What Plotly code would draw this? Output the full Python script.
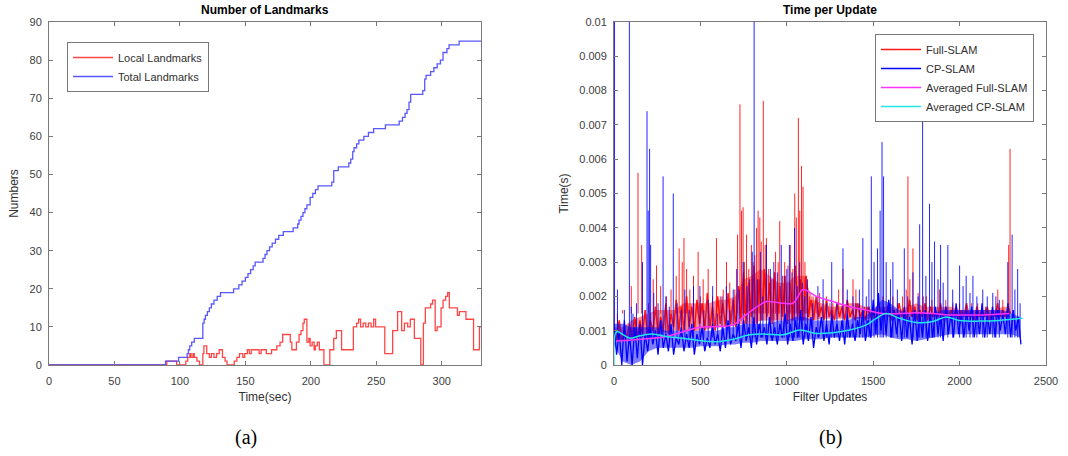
import numpy as np
import plotly.graph_objects as go

# ---------------- (a) Number of Landmarks ----------------
total_t = [0, 89, 99, 105.5, 106.5, 107.5, 109, 111, 117.5, 118.5, 119.5, 121, 122.5, 124, 126, 128.5, 131,
           141, 145, 147.5, 150, 152, 154, 156, 157.5, 163.5, 165, 166.5, 168.5, 170.5, 173, 175.5, 179,
           186.5, 190, 191, 192.5, 194, 195.5, 197, 199.5, 201.5, 203.5, 205.5, 216, 217.5, 221, 229, 230.5,
           232, 233, 235, 236.7, 240.5, 244, 248, 257, 267.5, 270, 272, 273.5, 275, 276.3, 285.5, 287,
           288, 291.5, 294, 296.5, 299, 301, 304, 305.6, 313.3, 330]
total_n = [0, 1, 2, 3, 4, 5, 6, 7, 11, 12, 13, 14, 15, 16, 17, 18, 19,
           20, 21, 22, 23, 24, 25, 26, 27, 28, 29, 30, 31, 32, 33, 34, 35,
           36, 37, 38, 39, 40, 41, 42, 44, 45, 46, 47, 48, 51, 52, 53, 54,
           56, 57, 58, 59, 60, 61, 62, 63, 64, 65, 66, 67, 69, 71, 72, 75,
           76, 77, 78, 79, 80, 82, 83, 84, 85, 85]

local_t = [0, 90, 97.5, 104.5, 106, 107.5, 108.5, 110, 111, 113,
           115, 117.5, 118.3, 120.5, 122.5, 124, 126, 128, 130, 132.5,
           134.5, 136, 141.5, 143.5, 145.5, 148, 149.5, 151.5, 153, 154.5,
           160.5, 162, 166, 170, 174, 176.5, 178.5, 184.3, 185.5, 189,
           191, 192.5, 194, 195, 197, 198.5, 199.5, 201, 202.5, 203.5,
           205, 206.5, 210, 214.5, 217.5, 219.5, 223.5, 232.5, 235, 236.5,
           238, 240, 242, 244, 246, 248, 249.5, 256.5, 262.5, 266.3,
           269.4, 271.5, 274, 276, 279.1, 284, 286, 287.5, 291.5, 293,
           295, 296.5, 299.5, 301, 303, 304.5, 305.8, 312, 313.5, 318.5,
           324.3, 328.8, 330]
local_n = [0, 1, 0, 1, 2, 3, 2, 3, 2, 1,
           0, 3, 5, 3, 2, 3, 2, 3, 4, 2,
           1, 0, 1, 2, 3, 2, 3, 4, 3, 4,
           3, 4, 3, 4, 5, 6, 8, 6, 4, 6,
           8, 9, 11, 12, 6, 7, 5, 6, 4, 5,
           6, 4, 0, 4, 7, 9, 4, 10, 11, 12,
           10, 11, 10, 11, 10, 12, 10, 3, 9, 14,
           9, 11, 10, 12, 7, 0, 11, 15, 16, 17,
           9, 10, 15, 17, 18, 19, 15, 13, 14, 12,
           4, 10, 10]

# ---------------- (b) Time per Update (values in ms) ----------------
UPDATE_STEP = 15
# dense noisy core of each series, one value every UPDATE_STEP updates
cp_core_ms = [1.2, 0.3, 1.0, 0.0, 1.3, 0.1, 0.9, 0.0, 1.1, 0.2,
              1.2, 0.0, 0.9, 0.4, 1.1, 0.6, 1.0, 0.3, 1.3, 0.5,
              0.9, 0.4, 1.2, 0.3, 0.8, 0.6, 1.1, 0.4, 0.9, 0.5,
              1.2, 0.3, 0.9, 0.6, 1.1, 0.4, 0.8, 0.5, 1.2, 0.6,
              0.9, 0.4, 1.1, 0.5, 1.3, 0.6, 0.9, 0.7, 1.2, 0.5,
              1.3, 0.7, 1.1, 0.5, 1.4, 0.6, 1.2, 0.8, 1.1, 0.6,
              1.4, 0.7, 1.1, 0.6, 1.2, 0.8, 1.5, 0.6, 1.2, 0.7,
              1.3, 0.8, 1.6, 0.6, 1.2, 0.7, 1.4, 0.5, 1.1, 0.8,
              1.4, 0.7, 1.2, 0.6, 1.5, 0.8, 1.2, 0.7, 1.3, 0.6,
              1.5, 0.8, 1.2, 0.7, 1.3, 0.9, 1.6, 0.7, 1.3, 0.8,
              1.9, 0.9, 2.1, 1.0, 1.7, 0.9, 1.9, 0.8, 1.6, 0.9,
              1.5, 0.7, 1.7, 0.8, 1.4, 0.6, 1.6, 0.7, 1.5, 0.8,
              1.6, 0.7, 1.5, 0.8, 1.7, 0.9, 1.5, 0.7, 1.7, 0.9,
              1.5, 0.8, 1.8, 0.9, 1.5, 0.8, 1.6, 1.0, 1.7, 0.8,
              1.6, 0.9, 1.8, 0.8, 1.5, 0.9, 1.7, 0.8, 1.6, 1.0,
              1.5, 0.9, 1.8, 0.8, 1.6, 1.0, 1.4, 0.6]
fs_core_ms = [1.1, 0.7, 1.3, 0.7, 1.0, 0.8, 1.2, 0.7, 1.4, 0.8,
              1.3, 0.9, 1.6, 0.8, 1.3, 1.0, 1.7, 0.9, 1.4, 1.0,
              1.8, 0.9, 1.5, 1.1, 1.9, 1.0, 1.7, 1.0, 2.0, 1.1,
              1.7, 1.0, 1.9, 1.2, 1.8, 1.0, 2.1, 1.1, 1.7, 1.0,
              2.0, 1.2, 1.8, 1.1, 2.1, 1.2, 1.9, 1.1, 2.3, 1.3,
              2.7, 1.2, 2.4, 1.4, 2.9, 1.2, 2.5, 1.3, 2.8, 1.4,
              2.4, 1.2, 2.7, 1.3, 2.3, 1.4, 2.6, 1.2, 2.4, 1.3,
              2.9, 1.4, 2.5, 1.3, 2.6, 1.4, 1.9, 1.3, 2.0, 1.4,
              1.7, 1.3, 1.9, 1.4, 1.6, 1.3, 1.8, 1.4, 1.7, 1.3,
              1.9, 1.4, 1.6, 1.3, 1.8, 1.4, 1.6, 1.3, 1.7, 1.4,
              1.6, 1.3, 1.8, 1.4, 1.6, 1.5, 1.8, 1.3, 1.6, 1.4,
              1.8, 1.4, 1.6, 1.3, 1.9, 1.4, 1.7, 1.3, 1.6, 1.4,
              1.8, 1.3, 1.7, 1.4, 1.6, 1.4, 1.8, 1.3, 1.7, 1.4,
              1.6, 1.4, 1.7, 1.3, 1.6, 1.4, 1.8, 1.4, 1.6, 1.3,
              1.7, 1.4, 1.6, 1.4, 1.7, 1.3, 1.6, 1.4, 1.8, 1.4,
              1.6, 1.4, 1.7, 1.5]

# individual spikes (update index, peak in ms)
cp_spike_x = [3, 20, 60, 89, 100, 110, 130, 165, 191, 198, 206, 212, 230, 255, 284, 300, 320, 343, 365,
              390, 410, 435, 460, 497, 520, 545, 571, 600, 625, 650, 670, 690, 710, 725, 748, 770, 785,
              800, 811, 830, 847, 862, 882, 905, 925, 945, 968, 985, 1000, 1015, 1030, 1045, 1060, 1075,
              1090, 1105, 1120, 1150, 1180, 1210, 1230, 1260, 1290, 1325, 1350, 1383, 1400, 1420, 1440,
              1460, 1475, 1489, 1505, 1525, 1540, 1551, 1560, 1575, 1600, 1614, 1640, 1680, 1700, 1730,
              1760, 1769, 1786, 1805, 1826, 1840, 1855, 1875, 1890, 1905, 1932, 1960, 2000, 2020, 2038,
              2060, 2077, 2100, 2134, 2160, 2192, 2210, 2230, 2279, 2304, 2320, 2336, 2350]
cp_spike_ms = [10.0, 2.2, 1.6, 10.0, 1.7, 1.5, 1.8, 3.0, 7.4, 4.5, 6.3, 3.5, 2.1, 1.8, 5.5, 2.0, 1.7, 5.0, 1.8,
               1.6, 2.2, 1.6, 2.3, 2.3, 1.6, 1.9, 2.3, 1.5, 2.0, 2.3, 1.6, 2.2, 2.8, 2.2, 3.0, 2.3, 2.5,
               3.3, 10.0, 2.5, 3.3, 2.0, 3.5, 2.8, 3.0, 2.7, 3.5, 2.6, 2.8, 3.5, 2.7, 4.0, 2.3, 3.0,
               2.4, 2.0, 2.5, 1.8, 2.3, 2.5, 1.8, 3.0, 1.8, 3.4, 2.2, 2.0, 1.8, 2.2, 3.7,
               2.0, 2.5, 5.5, 3.0, 3.4, 4.5, 6.5, 5.5, 3.0, 2.5, 3.0, 2.2, 3.4, 2.0, 2.7,
               2.0, 4.1, 7.1, 2.6, 4.7, 3.0, 3.6, 2.5, 3.5, 2.4, 3.5, 2.2, 2.9, 2.3, 2.6,
               2.1, 2.6, 2.0, 2.2, 2.0, 2.1, 2.0, 1.9, 3.0, 3.8, 2.2, 2.8, 1.8]
fs_spike_x = [20, 50, 100, 139, 160, 200, 227, 246, 270, 304, 330, 360, 377, 395, 405, 420, 439, 460, 487,
              500, 516, 545, 570, 593, 615, 632, 651, 670, 699, 715, 729, 738, 747, 755, 767, 780, 795,
              805, 815, 825, 834, 844, 852, 864, 875, 882, 895, 910, 921, 935, 950, 959, 975, 988, 1007,
              1020, 1035, 1046, 1055, 1067, 1075, 1085, 1094, 1105, 1113, 1130, 1152, 1170, 1190, 1210,
              1229, 1250, 1267, 1300, 1325, 1350, 1383, 1400, 1421, 1450, 1479, 1518, 1556, 1590, 1614,
              1640, 1670, 1691, 1701, 1712, 1730, 1760, 1790, 1807, 1840, 1884, 1920, 1961, 2000, 2038,
              2070, 2105, 2150, 2192, 2221, 2250, 2284, 2292]
fs_spike_ms = [1.2, 1.6, 2.3, 5.6, 3.5, 1.8, 2.5, 2.9, 2.3, 2.0, 2.2, 2.6, 3.4, 3.0, 3.7, 2.8, 2.2, 2.6, 3.3,
               2.0, 2.5, 2.8, 2.0, 3.7, 2.0, 2.2, 3.0, 2.4, 2.2, 3.8, 7.6, 4.5, 4.6, 3.0, 3.8, 2.8, 3.5,
               3.0, 3.2, 4.0, 4.5, 4.3, 3.6, 7.7, 3.5, 3.7, 2.8, 2.5, 2.5, 3.3, 3.0, 4.2, 2.6, 3.0, 2.9,
               3.5, 2.8, 5.0, 4.3, 7.2, 4.5, 5.8, 5.2, 3.0, 2.6, 2.0, 2.0, 1.9, 2.1, 1.9,
               2.0, 1.8, 1.8, 2.2, 2.8, 1.9, 2.5, 2.2, 1.8, 1.7, 1.7, 1.7, 2.0, 1.8, 2.0,
               1.8, 2.0, 2.2, 5.5, 2.5, 3.4, 2.1, 2.0, 2.0, 1.9, 2.2, 1.9, 1.8, 1.8, 1.7,
               1.8, 1.8, 1.7, 1.7, 2.2, 1.9, 3.5, 6.3]
CP_SPIKE_BASE_MS = 0.8
FS_SPIKE_BASE_MS = 1.5

# solid part of the dense core (lower / upper envelope, ms)
cp_band_x = [0, 50, 100, 150, 200, 250, 300, 350, 400, 450,
             500, 550, 600, 650, 700, 750, 800, 850, 900, 950,
             1000, 1050, 1100, 1150, 1200, 1250, 1300, 1350, 1400, 1450,
             1500, 1550, 1600, 1650, 1700, 1750, 1800, 1850, 1900, 1950,
             2000, 2050, 2100, 2150, 2200, 2250, 2300, 2350]
cp_low = [0.6, 0.1, 0.0, 0.1, 0.4, 0.5, 0.5, 0.5, 0.5, 0.5,
          0.55, 0.55, 0.55, 0.6, 0.6, 0.65, 0.65, 0.7, 0.7, 0.7,
          0.7, 0.7, 0.75, 0.75, 0.75, 0.8, 0.8, 0.8, 0.8, 0.8,
          0.85, 0.9, 0.8, 0.75, 0.75, 0.7, 0.75, 0.8, 0.85, 0.9,
          0.9, 0.9, 0.9, 0.9, 0.9, 0.9, 0.9, 0.8]
cp_high = [1.2, 1.2, 1.1, 1.1, 1.1, 1.1, 1.0, 1.0, 1.0, 1.0,
           1.0, 1.0, 1.0, 1.1, 1.1, 1.2, 1.2, 1.2, 1.2, 1.3,
           1.3, 1.4, 1.4, 1.3, 1.3, 1.3, 1.3, 1.3, 1.4, 1.4,
           1.6, 1.9, 1.8, 1.6, 1.5, 1.5, 1.5, 1.5, 1.6, 1.6,
           1.6, 1.6, 1.6, 1.6, 1.6, 1.6, 1.5, 1.4]
fs_band_x = [0, 50, 100, 150, 200, 250, 300, 350, 400, 450,
             500, 550, 600, 650, 700, 750, 800, 850, 900, 950,
             1000, 1050, 1100, 1150, 1200, 1250, 1300, 1350, 1400, 1450,
             1500, 1550, 1600, 1650, 1700, 1750, 1800, 1850, 1900, 1950,
             2000, 2050, 2100, 2150, 2200, 2250, 2290]
fs_low = [0.7, 0.7, 0.75, 0.8, 0.85, 0.9, 0.95, 1.0, 1.0, 1.0,
          1.0, 1.05, 1.1, 1.1, 1.15, 1.2, 1.2, 1.3, 1.3, 1.3,
          1.3, 1.3, 1.3, 1.3, 1.35, 1.35, 1.35, 1.35, 1.35, 1.35,
          1.35, 1.4, 1.4, 1.4, 1.4, 1.4, 1.4, 1.4, 1.4, 1.4,
          1.4, 1.4, 1.4, 1.4, 1.4, 1.4, 1.4]
fs_high = [1.1, 1.1, 1.3, 1.4, 1.5, 1.6, 1.6, 1.6, 1.8, 1.8,
           1.8, 1.8, 1.9, 1.9, 2.0, 2.5, 2.6, 2.8, 2.6, 2.4,
           2.4, 2.6, 2.6, 1.9, 1.8, 1.7, 1.7, 1.8, 1.8, 1.7,
           1.6, 1.7, 1.7, 1.6, 1.7, 1.8, 1.7, 1.7, 1.7, 1.7,
           1.6, 1.6, 1.6, 1.6, 1.6, 1.7, 1.7]

avg_fs_x = [10, 112, 304, 400, 497, 593, 690, 748, 844, 882, 978, 1036, 1065, 1094,
            1171, 1267, 1364, 1460, 1556, 1653, 1749, 1845, 1942, 2038, 2134, 2288]
avg_fs_ms = [0.7, 0.73, 0.83, 0.97, 1.1, 1.12, 1.17, 1.4, 1.75, 1.85, 1.8, 1.8, 2.0, 2.2,
             2.0, 1.85, 1.7, 1.6, 1.5, 1.5, 1.52, 1.5, 1.46, 1.46, 1.46, 1.5]
avg_cp_x = [0, 15, 54, 92, 150, 227, 304, 400, 497, 593, 690, 786, 882, 978, 1075,
            1171, 1267, 1364, 1460, 1518, 1575, 1653, 1749, 1845, 1922, 1999, 2134, 2230, 2365]
avg_cp_ms = [0, 0.97, 0.88, 0.78, 0.85, 0.9, 0.83, 0.78, 0.71, 0.68, 0.75, 0.88, 0.9, 0.88, 1.02,
             0.92, 0.94, 1.02, 1.17, 1.36, 1.5, 1.36, 1.24, 1.27, 1.4, 1.3, 1.28, 1.3, 1.36]

MS = 1e-3
cp_x = np.arange(len(cp_core_ms)) * UPDATE_STEP
fs_x = np.arange(len(fs_core_ms)) * UPDATE_STEP


def spike_segments(xs, tops, base):
    sx, sy = [], []
    for x, t in zip(xs, tops):
        sx += [x, x, None]
        sy += [base * MS, t * MS, None]
    return sx, sy


def band_polygon(xs, low, high):
    px = list(xs) + list(xs)[::-1]
    py = [v * MS for v in high] + [v * MS for v in low][::-1]
    return px, py


FONT = "Liberation Sans, Arial, sans-serif"
RED = "rgba(255,0,0,0.85)"
BLUE = "rgba(0,0,255,0.85)"

fig = go.Figure()

# ---- left panel ----
fig.add_trace(go.Scatter(x=local_t, y=local_n, mode="lines", name="Local Landmarks",
                         line=dict(color="rgba(255,50,50,0.9)", width=1.3, shape="hv"),
                         xaxis="x", yaxis="y", legend="legend"))
fig.add_trace(go.Scatter(x=total_t, y=total_n, mode="lines", name="Total Landmarks",
                         line=dict(color="rgba(70,70,255,0.9)", width=1.3, shape="hv"),
                         xaxis="x", yaxis="y", legend="legend"))

# ---- right panel: named series first (legend order), extra detail traces after ----
fig.add_trace(go.Scatter(x=fs_x, y=np.array(fs_core_ms) * MS, mode="lines", name="Full-SLAM",
                         line=dict(color="#ff1a1a", width=1.5),
                         xaxis="x2", yaxis="y2", legend="legend2"))
bx, by = band_polygon(fs_band_x, fs_low, fs_high)
fig.add_trace(go.Scatter(x=bx, y=by, mode="lines", line=dict(width=0), fill="toself",
                         fillcolor="rgba(255,0,0,0.45)", showlegend=False, hoverinfo="skip",
                         legend="legend2", xaxis="x2", yaxis="y2"))
fsx, fsy = spike_segments(fs_spike_x, fs_spike_ms, FS_SPIKE_BASE_MS)
fig.add_trace(go.Scatter(x=fsx, y=fsy, mode="lines", line=dict(color=RED, width=1),
                         showlegend=False, hoverinfo="skip", legend="legend2", xaxis="x2", yaxis="y2"))
fig.add_trace(go.Scatter(x=cp_x, y=np.array(cp_core_ms) * MS, mode="lines", name="CP-SLAM",
                         line=dict(color="#0000ff", width=1.3),
                         xaxis="x2", yaxis="y2", legend="legend2"))
bx, by = band_polygon(cp_band_x, cp_low, cp_high)
fig.add_trace(go.Scatter(x=bx, y=by, mode="lines", line=dict(width=0), fill="toself",
                         fillcolor="rgba(0,0,255,0.5)", showlegend=False, hoverinfo="skip",
                         legend="legend2", xaxis="x2", yaxis="y2"))
cpx, cpy = spike_segments(cp_spike_x, cp_spike_ms, CP_SPIKE_BASE_MS)
fig.add_trace(go.Scatter(x=cpx, y=cpy, mode="lines", line=dict(color=BLUE, width=1),
                         showlegend=False, hoverinfo="skip", legend="legend2", xaxis="x2", yaxis="y2"))
fig.add_trace(go.Scatter(x=avg_fs_x, y=np.array(avg_fs_ms) * MS, mode="lines", name="Averaged Full-SLAM",
                         line=dict(color="#ff33ff", width=1.5, shape="spline"),
                         xaxis="x2", yaxis="y2", legend="legend2"))
fig.add_trace(go.Scatter(x=avg_cp_x, y=np.array(avg_cp_ms) * MS, mode="lines", name="Averaged CP-SLAM",
                         line=dict(color="#22e6e6", width=1.5, shape="spline"),
                         xaxis="x2", yaxis="y2", legend="legend2"))

AX = dict(showline=True, mirror="ticks", linecolor="#7a7a7a", linewidth=1, ticks="inside",
          ticklen=4, tickcolor="#7a7a7a", showgrid=False, zeroline=False, automargin=False,
          tickfont=dict(family=FONT, size=11, color="#404040"),
          title_font=dict(family=FONT, size=12, color="#303030"))

YDOM = [1 - 365 / 456, 1 - 22 / 456]
fig.update_layout(
    width=1068, height=456, margin=dict(l=0, r=0, t=0, b=0, autoexpand=False),
    paper_bgcolor="white", plot_bgcolor="white",
    xaxis=dict(AX, domain=[49 / 1068, 481 / 1068], range=[0, 330], tickvals=[0, 50, 100, 150, 200, 250, 300],
               anchor="y", ticklabelstandoff=6, title=dict(text="Time(sec)", standoff=6)),
    yaxis=dict(AX, domain=YDOM, range=[0, 90], dtick=10, anchor="x", ticklabelstandoff=4,
               title=dict(text="Numbers", standoff=8)),
    xaxis2=dict(AX, domain=[614 / 1068, 1046 / 1068], range=[0, 2500], dtick=500, anchor="y2",
                ticklabelstandoff=6, title=dict(text="Filter Updates", standoff=6)),
    yaxis2=dict(AX, domain=YDOM, range=[0, 0.01], dtick=0.001, anchor="x2", ticklabelstandoff=4,
                title=dict(text="Time(s)", standoff=8)),
    legend=dict(x=67 / 1068, y=1 - 42 / 456, xanchor="left", yanchor="top", traceorder="normal",
                bgcolor="white", bordercolor="#777777", borderwidth=1, itemwidth=40,
                font=dict(family=FONT, size=11, color="#303030")),
    legend2=dict(x=875 / 1068, y=1 - 34 / 456, xanchor="left", yanchor="top", traceorder="normal",
                 bgcolor="white", bordercolor="#777777", borderwidth=1, itemwidth=40,
                 font=dict(family=FONT, size=11, color="#303030")),
    annotations=[
        dict(text="<b>Number of Landmarks</b>", x=265 / 1068, y=1 - 10 / 456, xref="paper", yref="paper",
             showarrow=False, font=dict(family=FONT, size=12, color="black"), xanchor="center", yanchor="middle"),
        dict(text="<b>Time per Update</b>", x=830 / 1068, y=1 - 10 / 456, xref="paper", yref="paper",
             showarrow=False, font=dict(family=FONT, size=12, color="black"), xanchor="center", yanchor="middle"),
        dict(text="(a)", x=246 / 1068, y=1 - 437 / 456, xref="paper", yref="paper", showarrow=False,
             font=dict(family="Liberation Serif, DejaVu Serif, serif", size=20, color="black"),
             xanchor="center", yanchor="middle"),
        dict(text="(b)", x=830 / 1068, y=1 - 437 / 456, xref="paper", yref="paper", showarrow=False,
             font=dict(family="Liberation Serif, DejaVu Serif, serif", size=20, color="black"),
             xanchor="center", yanchor="middle"),
    ],
)

fig.write_html("out.html")
